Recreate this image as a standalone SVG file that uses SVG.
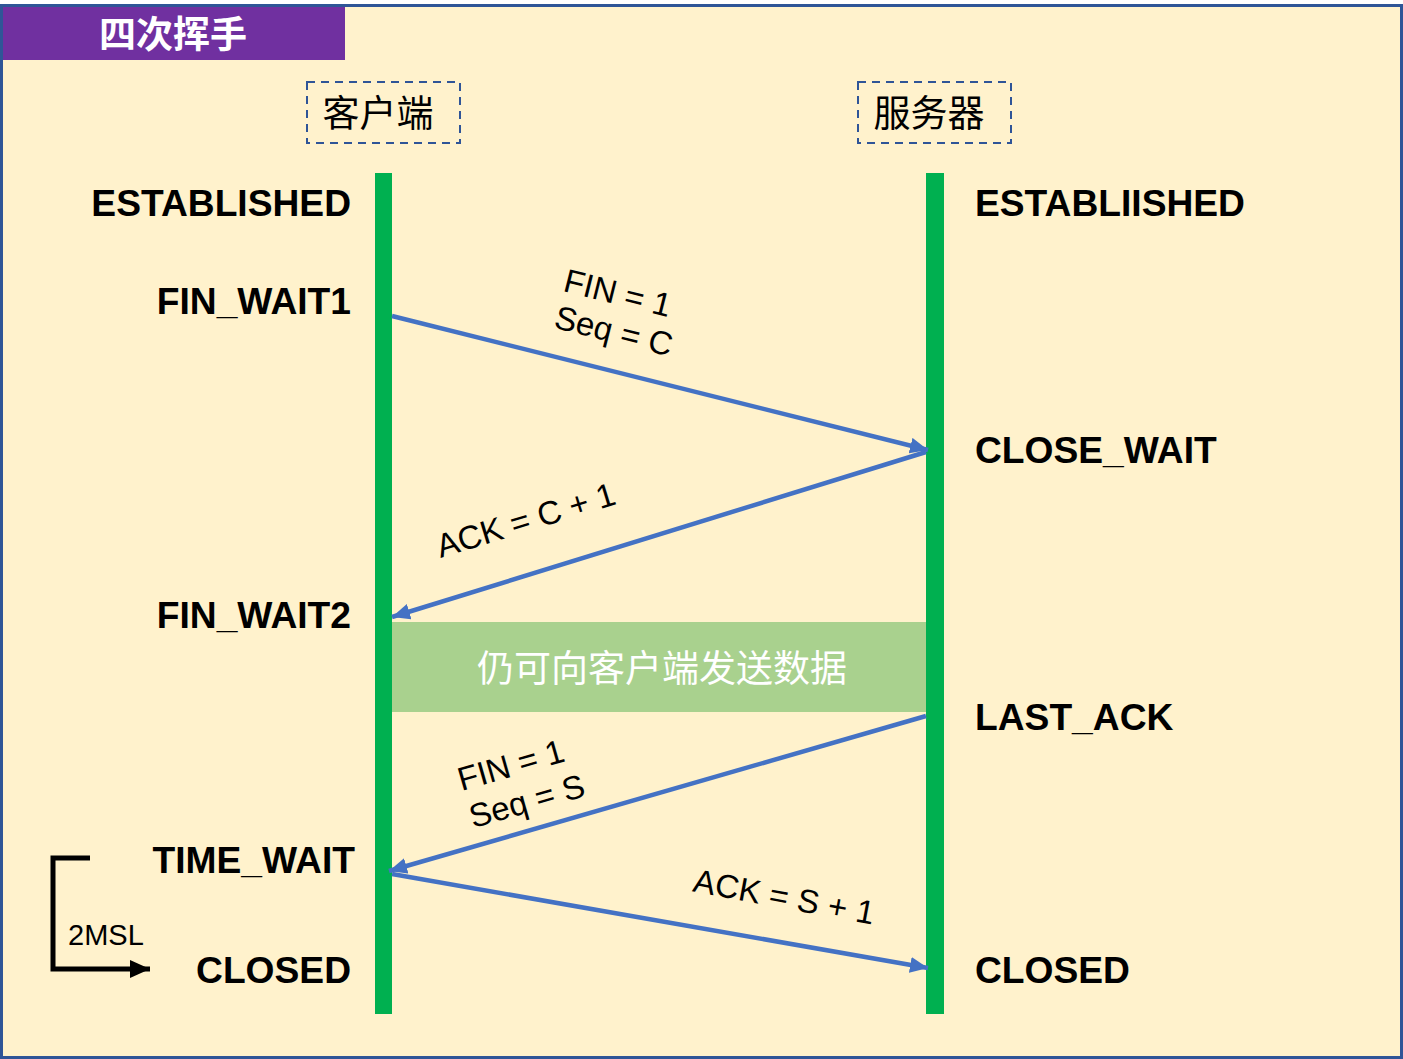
<svg xmlns="http://www.w3.org/2000/svg" width="1403" height="1059" viewBox="0 0 1403 1059">
<style>
.state{font-family:"Liberation Sans",Arial,sans-serif;font-weight:bold;font-size:37.2px;fill:#000}
.lbl{font-family:"Liberation Sans",Arial,sans-serif;font-size:33px;fill:#000}
.cjk{font-family:"Noto Sans CJK SC","Liberation Sans",sans-serif;font-size:37px}
.msg{stroke:#4472C4;stroke-width:4.5;fill:none;marker-end:url(#ah)}
.life{fill:#00B050}
.hdr{fill:none;stroke:#2F5597;stroke-width:2;stroke-dasharray:8 6}
</style>
<defs>
<marker id="ah" markerUnits="userSpaceOnUse" markerWidth="20" markerHeight="16" refX="18" refY="8" orient="auto">
<path d="M0,0 L18,8 L0,16 Z" fill="#4472C4"/>
</marker>
<marker id="bk" markerUnits="userSpaceOnUse" markerWidth="22" markerHeight="18" refX="20" refY="9" orient="auto">
<path d="M0,0 L20,9 L0,18 Z" fill="#000"/>
</marker>
</defs>
<rect x="1.5" y="5.5" width="1400" height="1052" fill="#FFF2CC" stroke="#2F5597" stroke-width="3"/>
<g id="title">
<rect x="3" y="7" width="342" height="53" fill="#7030A0"/>
<text x="173" y="48" text-anchor="middle" class="cjk" style="font-weight:bold;font-size:37px" fill="#fff">四次挥手</text>
</g>
<g id="client">
<rect x="307" y="82" width="153" height="61" class="hdr"/>
<text x="378" y="127" text-anchor="middle" class="cjk" fill="#000">客户端</text>
<rect x="375" y="173" width="17" height="841" class="life"/>
</g>
<g id="server">
<rect x="858" y="82" width="153" height="61" class="hdr"/>
<text x="929" y="127" text-anchor="middle" class="cjk" fill="#000">服务器</text>
<rect x="926" y="173" width="18" height="841" class="life"/>
</g>
<g id="client-states" class="state" text-anchor="end">
<text x="351" y="216">ESTABLISHED</text>
<text x="351" y="314">FIN_WAIT1</text>
<text x="351" y="628">FIN_WAIT2</text>
<text x="355" y="873">TIME_WAIT</text>
<text x="351" y="983">CLOSED</text>
</g>
<g id="server-states" class="state">
<text x="975" y="216">ESTABLIISHED</text>
<text x="975" y="463">CLOSE_WAIT</text>
<text x="975" y="730">LAST_ACK</text>
<text x="975" y="983">CLOSED</text>
</g>
<g id="band">
<rect x="392" y="622" width="534" height="90" fill="#A9D18E"/>
<text x="662" y="682" text-anchor="middle" class="cjk" fill="#fff">仍可向客户端发送数据</text>
</g>
<g id="connectors">
<line x1="392" y1="316" x2="928" y2="450" class="msg"/>
<line x1="926" y1="452" x2="392" y2="617" class="msg"/>
<line x1="926" y1="716" x2="389" y2="871" class="msg"/>
<line x1="392" y1="874" x2="928" y2="968" class="msg"/>
<polyline points="90,858 53,858 53,969 150,969" fill="none" stroke="#000" stroke-width="5" marker-end="url(#bk)"/>
</g>
<g id="labels" class="lbl" text-anchor="middle">
<text transform="translate(615,304) rotate(14)">FIN = 1</text>
<text transform="translate(611,342) rotate(14)">Seq = C</text>
<text transform="translate(529,531) rotate(-17)">ACK = C + 1</text>
<text transform="translate(514,776) rotate(-16)">FIN = 1</text>
<text transform="translate(530,812) rotate(-16)">Seq = S</text>
<text transform="translate(782,908) rotate(10.5)">ACK = S + 1</text>
<text x="68" y="945" text-anchor="start" style="font-size:29px">2MSL</text>
</g>
</svg>
